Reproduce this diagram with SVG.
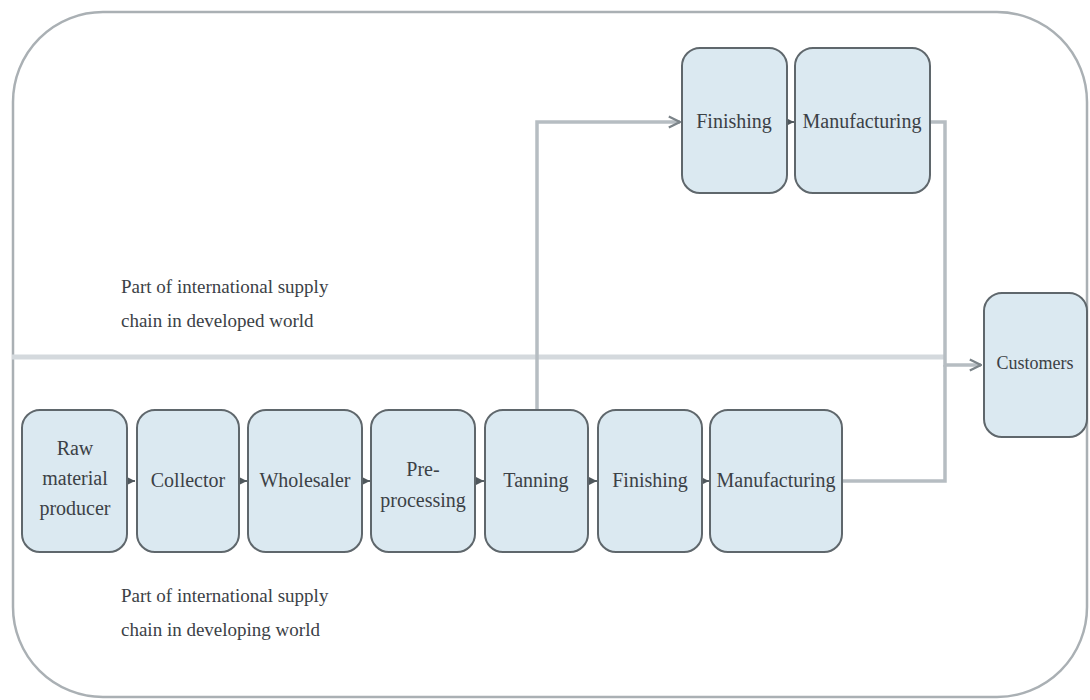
<svg xmlns="http://www.w3.org/2000/svg" width="1090" height="700" viewBox="0 0 1090 700">
<style>
.box{fill:#dbe9f1;stroke:#5f676c;stroke-width:2}
.t{font-family:'Liberation Serif','Times New Roman','DejaVu Serif',serif;font-size:20px;fill:#3b4146;text-anchor:middle;dominant-baseline:central}
.lbl{font-family:'Liberation Serif','Times New Roman','DejaVu Serif',serif;font-size:19px;fill:#3b4146}
.con{fill:none;stroke:#b6bdc2;stroke-width:3.5}
.short{fill:none;stroke:#5f676c;stroke-width:2}
</style>
<defs>
<marker id="sa" viewBox="0 0 6 6" refX="6" refY="3" markerWidth="4" markerHeight="4" orient="auto">
<path d="M0,0 L6,3 L0,6 Z" fill="#4f575c"/>
</marker>
<marker id="oa" viewBox="0 0 10 10" refX="9" refY="5" markerWidth="4" markerHeight="4" orient="auto" markerUnits="strokeWidth">
<path d="M1,1 L9,5 L1,9" fill="none" stroke="#7c8489" stroke-width="1.6"/>
</marker>
</defs>
<rect width="1090" height="700" fill="#ffffff"/>
<rect x="13" y="12" width="1074" height="685" rx="90" ry="90" fill="none" stroke="#aab0b4" stroke-width="2.5"/>
<line x1="12" y1="357" x2="945" y2="357" stroke="#d4d9dd" stroke-width="5"/>
<text class="lbl" x="121" y="293">Part of international supply</text>
<text class="lbl" x="121" y="327">chain in developed world</text>
<text class="lbl" x="121" y="602">Part of international supply</text>
<text class="lbl" x="121" y="636">chain in developing world</text>
<g id="connectors">
<path class="con" d="M537,410 V122 H680" marker-end="url(#oa)"/>
<path class="con" d="M842,481 H945 V365"/>
<path class="con" d="M930,122 H945 V365 H981" marker-end="url(#oa)"/>
<line class="short" x1="127" y1="481" x2="135" y2="481" marker-end="url(#sa)"/>
<line class="short" x1="239" y1="481" x2="247" y2="481" marker-end="url(#sa)"/>
<line class="short" x1="362" y1="481" x2="370" y2="481" marker-end="url(#sa)"/>
<line class="short" x1="475" y1="481" x2="484" y2="481" marker-end="url(#sa)"/>
<line class="short" x1="588" y1="481" x2="597" y2="481" marker-end="url(#sa)"/>
<line class="short" x1="702" y1="481" x2="709" y2="481" marker-end="url(#sa)"/>
<line class="short" x1="787" y1="122" x2="794" y2="122" marker-end="url(#sa)"/>
</g>
<g id="raw"><rect class="box" x="22" y="410" width="105" height="142" rx="18"/>
<text class="t" x="75" y="448">Raw</text><text class="t" x="75" y="478">material</text><text class="t" x="75" y="508">producer</text></g>
<g id="collector"><rect class="box" x="137" y="410" width="102" height="142" rx="18"/><text class="t" x="188" y="480">Collector</text></g>
<g id="wholesaler"><rect class="box" x="248" y="410" width="114" height="142" rx="18"/><text class="t" x="305" y="480">Wholesaler</text></g>
<g id="preprocessing"><rect class="box" x="371" y="410" width="104" height="142" rx="18"/>
<text class="t" x="423" y="469">Pre-</text><text class="t" x="423" y="500">processing</text></g>
<g id="tanning"><rect class="box" x="485" y="410" width="103" height="142" rx="18"/><text class="t" x="536" y="480">Tanning</text></g>
<g id="finishing"><rect class="box" x="598" y="410" width="104" height="142" rx="18"/><text class="t" x="650" y="480">Finishing</text></g>
<g id="manufacturing"><rect class="box" x="710" y="410" width="132" height="142" rx="18"/><text class="t" x="776" y="480">Manufacturing</text></g>
<g id="finishing2"><rect class="box" x="682" y="48" width="105" height="145" rx="18"/><text class="t" x="734" y="121">Finishing</text></g>
<g id="manufacturing2"><rect class="box" x="795" y="48" width="135" height="145" rx="18"/><text class="t" x="862" y="121">Manufacturing</text></g>
<g id="customers"><rect class="box" x="984" y="293" width="103" height="144" rx="18"/><text class="t" x="1035" y="363" style="font-size:18px">Customers</text></g>
</svg>
